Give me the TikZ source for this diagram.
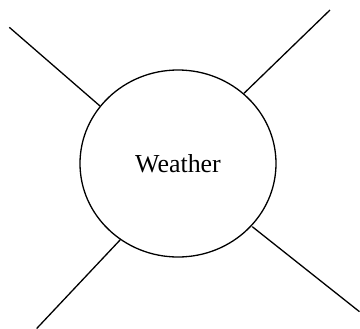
\documentclass[tikz,border=0pt]{standalone}
\usepackage{fontspec}
\setmainfont{Liberation Serif}
\usetikzlibrary{shapes.geometric}
\tikzset{
  hub/.style={draw, ellipse, line width=1.3bp, minimum width=196bp, minimum height=187bp, inner sep=0pt, font=\fontsize{26}{30}\selectfont},
  spoke/.style={line width=1.3bp}
}
\begin{document}
\begin{tikzpicture}[x=1bp,y=-1bp]
\useasboundingbox (0,0) rectangle (360,329);
\node[hub] (w) at (178,163.5) {Weather};
\coordinate (ul) at (9.3,27.3);
\coordinate (uli) at (100,106);
\coordinate (ur) at (330,10);
\coordinate (uri) at (244,93.3);
\coordinate (ll) at (36.7,328.5);
\coordinate (lli) at (120.7,239.3);
\coordinate (lr) at (359.5,311.7);
\coordinate (lri) at (252.3,226.7);
\draw[spoke] (ul) -- (uli);
\draw[spoke] (ur) -- (uri);
\draw[spoke] (ll) -- (lli);
\draw[spoke] (lr) -- (lri);
\end{tikzpicture}
\end{document}
